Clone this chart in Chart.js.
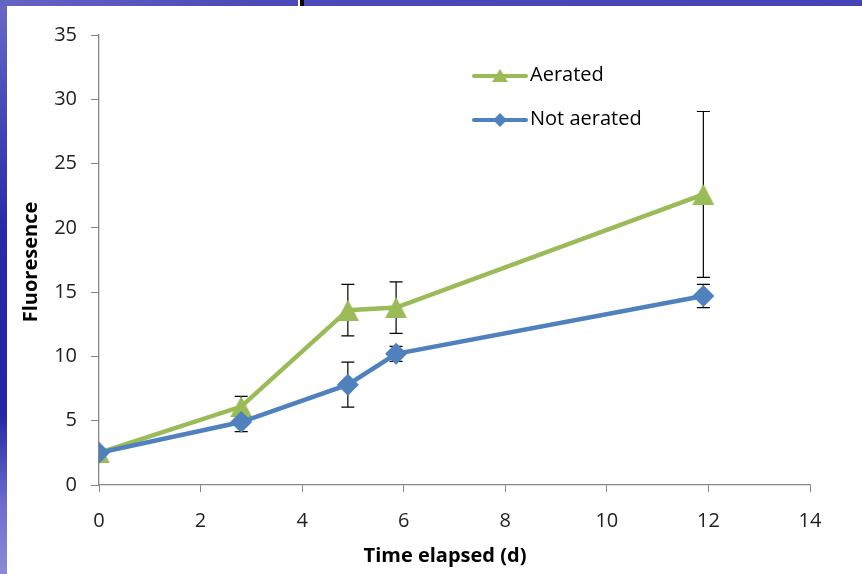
<!DOCTYPE html>
<html>
<head>
<meta charset="utf-8">
<script src="https://cdn.jsdelivr.net/npm/chart.js@4.4.1/dist/chart.umd.min.js"></script>
<style>
  html, body { margin: 0; padding: 0; width: 862px; height: 574px; overflow: hidden; }
  body {
    position: relative;
    background: linear-gradient(to bottom, #6a6ac8 0%, #4a4ab8 18%, #2a2aa8 40%, #2626a6 72%, #6e6ecc 88%, #8a8ad6 100%);
  }
  #topband {
    position: absolute; left: 0; top: 0; width: 862px; height: 6px;
    background: linear-gradient(to right, #6464c4 0%, #4a4ab8 30%, #4444b6 100%);
  }
  #mark-w { position: absolute; left: 298px; top: 0; width: 2px; height: 6px; background: #ffffff; }
  #mark-b { position: absolute; left: 300px; top: 0; width: 4px; height: 6px; background: #000000; }
  #panel { position: absolute; left: 7px; top: 6px; right: 0; bottom: 0; background: #ffffff; }
  #wrap { position: absolute; left: 0; top: 0; width: 862px; height: 574px; }
</style>
</head>
<body>
<div id="topband"></div>
<div id="mark-w"></div>
<div id="mark-b"></div>
<div id="panel"></div>
<div id="wrap"><canvas id="chart" width="862" height="574"></canvas></div>
<script>
// Sampling times (days) and mean fluorescence with standard errors
const days = [0, 2.8, 4.9, 5.85, 11.9];
const aerated = [2.5, 6.1, 13.6, 13.8, 22.6];
const aeratedErr = [0, 0.8, 2.0, 2.0, 6.45];
const notAerated = [2.5, 4.9, 7.8, 10.2, 14.7];
const notAeratedErr = [0, 0.75, 1.75, 0.58, 0.9];
const seriesNames = ['Aerated', 'Not aerated'];
const xTicks = [0, 2, 4, 6, 8, 10, 12, 14];
const yTicks = [0, 5, 10, 15, 20, 25, 30, 35];
const xTitle = 'Time elapsed (d)';
const yTitle = 'Fluoresence';

const GREEN = '#9bbb59';
const BLUE = '#4f81bd';
const FONT = "'Open Sans', 'Liberation Sans', sans-serif";

// Triangle marker centred on its bounding box
function triangleImage(w, h, color) {
  const c = document.createElement('canvas');
  c.width = w; c.height = h;
  const g = c.getContext('2d');
  g.fillStyle = color;
  g.beginPath();
  g.moveTo(w / 2, 0);
  g.lineTo(w, h);
  g.lineTo(0, h);
  g.closePath();
  g.fill();
  return c;
}
const triMarker = triangleImage(22, 21, GREEN);

const toPoints = (xs, ys) => xs.map((x, i) => ({ x: x, y: ys[i] }));

// Vertical error bars with caps, drawn under the markers
const errorBars = {
  id: 'errorBars',
  beforeDatasetsDraw(chart) {
    const { ctx, scales: { x, y } } = chart;
    const sets = [[aerated, aeratedErr], [notAerated, notAeratedErr]];
    ctx.save();
    ctx.strokeStyle = '#000000';
    ctx.lineWidth = 1.2;
    sets.forEach(([vals, errs]) => {
      vals.forEach((v, i) => {
        if (!errs[i]) return;
        const px = x.getPixelForValue(days[i]);
        const top = y.getPixelForValue(v + errs[i]);
        const bot = y.getPixelForValue(v - errs[i]);
        ctx.beginPath();
        ctx.moveTo(px, top); ctx.lineTo(px, bot);
        ctx.moveTo(px - 6.5, top); ctx.lineTo(px + 6.5, top);
        ctx.moveTo(px - 6.5, bot); ctx.lineTo(px + 6.5, bot);
        ctx.stroke();
      });
    });
    ctx.restore();
  }
};

// Axis titles placed beside the plot
const axisTitles = {
  id: 'axisTitles',
  afterDraw(chart) {
    const { ctx } = chart;
    ctx.save();
    ctx.fillStyle = '#000000';
    ctx.font = 'bold 20px ' + FONT;
    ctx.textAlign = 'center';
    ctx.textBaseline = 'middle';
    ctx.fillText(xTitle, 445, 556);
    ctx.translate(31, 262);
    ctx.rotate(-Math.PI / 2);
    ctx.fillText(yTitle, 0, 0);
    ctx.restore();
  }
};

// Legend: line sample with marker, then the series name
const lineLegend = {
  id: 'lineLegend',
  afterDraw(chart) {
    const { ctx } = chart;
    const entries = [
      { name: seriesNames[0], color: GREEN, y: 76, shape: 'tri' },
      { name: seriesNames[1], color: BLUE, y: 120, shape: 'dia' }
    ];
    ctx.save();
    entries.forEach(e => {
      ctx.strokeStyle = e.color;
      ctx.lineWidth = 4;
      ctx.lineCap = 'round';
      ctx.beginPath();
      ctx.moveTo(474, e.y); ctx.lineTo(526, e.y);
      ctx.stroke();
      ctx.fillStyle = e.color;
      ctx.beginPath();
      const cx = 500;
      if (e.shape === 'tri') {
        ctx.moveTo(cx, e.y - 7); ctx.lineTo(cx + 8, e.y + 6); ctx.lineTo(cx - 8, e.y + 6);
      } else {
        ctx.moveTo(cx, e.y - 7); ctx.lineTo(cx + 7, e.y); ctx.lineTo(cx, e.y + 7); ctx.lineTo(cx - 7, e.y);
      }
      ctx.closePath();
      ctx.fill();
      ctx.fillStyle = '#000000';
      ctx.font = '20px ' + FONT;
      ctx.textBaseline = 'middle';
      ctx.textAlign = 'left';
      ctx.fillText(e.name, 530, e.y - 1);
    });
    ctx.restore();
  }
};

Chart.defaults.font.family = FONT;

new Chart(document.getElementById('chart'), {
  type: 'line',
  data: {
    datasets: [
      {
        label: seriesNames[1],
        data: toPoints(days, notAerated),
        borderColor: BLUE,
        backgroundColor: BLUE,
        borderWidth: 4.5,
        pointStyle: 'rectRot',
        pointRadius: 11,
        pointBorderWidth: 0,
        tension: 0
      },
      {
        label: seriesNames[0],
        data: toPoints(days, aerated),
        borderColor: GREEN,
        backgroundColor: GREEN,
        borderWidth: 4.5,
        pointStyle: triMarker,
        pointRadius: 11,
        tension: 0
      }
    ]
  },
  options: {
    responsive: false,
    animation: false,
    events: [],
    layout: { padding: { top: 35, right: 52, left: 0, bottom: 0 } },
    plugins: { legend: { display: false }, tooltip: { enabled: false } },
    scales: {
      x: {
        type: 'linear',
        min: 0, max: 14,
        afterBuildTicks: s => { s.ticks = xTicks.map(v => ({ value: v })); },
        afterFit: s => { s.height = 89; },
        grid: { drawOnChartArea: false, color: '#868686', tickLength: 7, tickColor: '#868686' },
        border: { color: '#868686', width: 1.3 },
        ticks: { color: '#222222', font: { size: 20 }, padding: 17, maxRotation: 0 }
      },
      y: {
        min: 0, max: 35,
        afterBuildTicks: s => { s.ticks = yTicks.map(v => ({ value: v })); },
        afterFit: s => { s.width = 99; },
        grid: { drawOnChartArea: false, color: '#868686', tickLength: 8, tickColor: '#868686' },
        border: { color: '#868686', width: 1.3 },
        ticks: { color: '#222222', font: { size: 20 }, padding: 14 }
      }
    }
  },
  plugins: [errorBars, lineLegend, axisTitles]
});
</script>
</body>
</html>
